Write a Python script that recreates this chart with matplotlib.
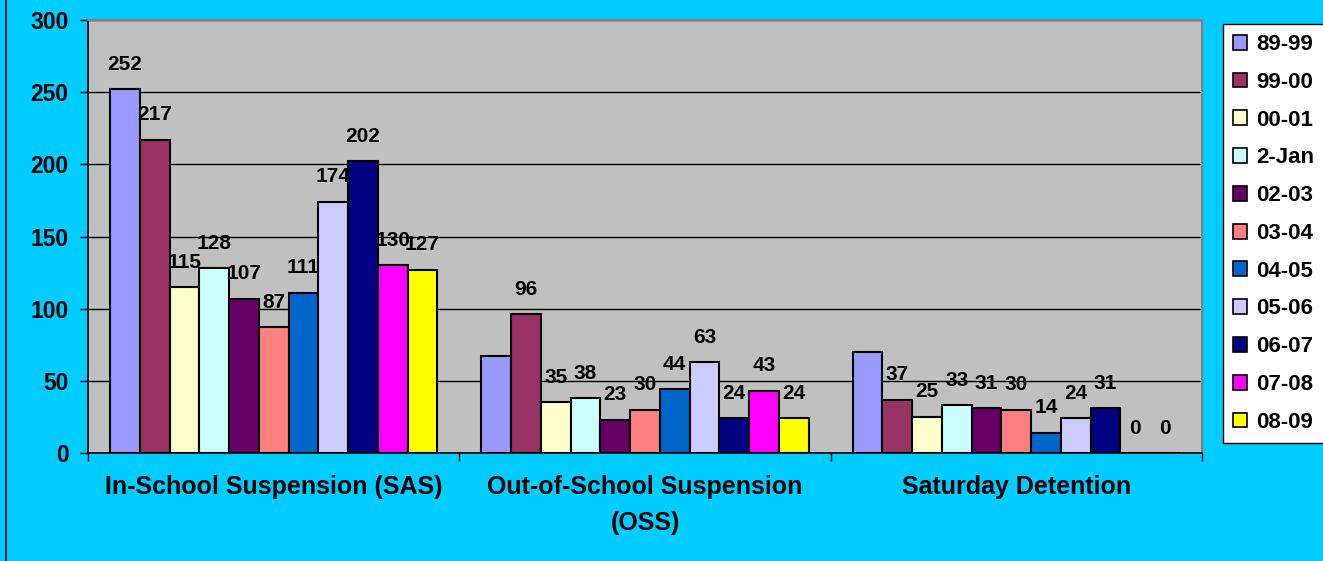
import matplotlib
matplotlib.use("Agg")
import matplotlib.pyplot as plt
import numpy as np
from matplotlib.patches import Rectangle
from matplotlib.lines import Line2D

plt.rcParams['font.family'] = ['Liberation Sans', 'DejaVu Sans']
plt.rcParams['font.weight'] = 'bold'

categories = ["In-School Suspension (SAS)", "Out-of-School Suspension\n(OSS)", "Saturday Detention"]
series_names = ["89-99", "99-00", "00-01", "2-Jan", "02-03", "03-04", "04-05", "05-06", "06-07", "07-08", "08-09"]
values = {
    "89-99": [252, 67, 70],
    "99-00": [217, 96, 37],
    "00-01": [115, 35, 25],
    "2-Jan": [128, 38, 33],
    "02-03": [107, 23, 31],
    "03-04": [87, 30, 30],
    "04-05": [111, 44, 14],
    "05-06": [174, 63, 24],
    "06-07": [202, 24, 31],
    "07-08": [130, 43, 0],
    "08-09": [127, 24, 0],
}
# labels shown in the reference (False = not shown)
shown = {
    "89-99": [True, False, False],
}
colors = ["#9999FF", "#993366", "#FFFFCC", "#CCFFFF", "#660066", "#FF8080",
          "#0066CC", "#CCCCFF", "#000080", "#FF00FF", "#FFFF00"]
yticks = [0, 50, 100, 150, 200, 250, 300]

W, H = 1323, 561
fig = plt.figure(figsize=(W / 100, H / 100), dpi=100)
fig.patch.set_facecolor("#00CCFF")
ax = fig.add_axes([88 / W, 1 - 453 / H, (1202 - 88) / W, (453 - 20) / H])
ax.set_facecolor("#C0C0C0")

n = len(series_names)
bw = 0.0801
x = np.arange(len(categories))
for i, name in enumerate(series_names):
    xs = x - n * bw / 2 + bw * (i + 0.5)
    vals = values[name]
    ax.bar(xs, vals, width=bw, color=colors[i], edgecolor="black", linewidth=1.5, zorder=3, label=name)
    flags = shown.get(name, [True] * len(vals))
    for xv, v, f in zip(xs, vals, flags):
        if f:
            ax.annotate(str(v), (xv, v), xytext=(0, 18), textcoords="offset points",
                        ha="center", va="center", fontsize=15, fontweight="bold", zorder=5)

ax.set_xlim(-0.5, len(categories) - 0.5)
ax.set_ylim(0, 300)
ax.set_yticks(yticks)
ax.set_yticklabels([str(t) for t in yticks], fontsize=16.5, fontweight="bold")
ax.tick_params(axis="y", length=6, width=1, direction="out", pad=8, colors="black")
ax.set_xticks(x)
ax.set_xticklabels(categories, fontsize=18, fontweight="bold", linespacing=1.6)
ax.tick_params(axis="x", length=0, pad=16)
ax.set_xticks(np.arange(-0.5, len(categories)), minor=True)
ax.tick_params(axis="x", which="minor", length=6, width=1, direction="out")
ax.yaxis.grid(True, color="black", linewidth=1)
ax.set_axisbelow(True)
for s in ["top", "right"]:
    ax.spines[s].set_color("#808080")
    ax.spines[s].set_linewidth(1.5)
for s in ["left", "bottom"]:
    ax.spines[s].set_color("black")
    ax.spines[s].set_linewidth(1.2)

handles = [Rectangle((0, 0), 1, 1, facecolor=c, edgecolor="black", linewidth=1.2) for c in colors]
leg = fig.legend(handles, series_names, loc="upper left",
                 bbox_to_anchor=(1223 / W, 1 - 24 / H), borderaxespad=0,
                 prop={"size": 16, "weight": "bold"}, frameon=True, fancybox=False,
                 edgecolor="black", facecolor="white", framealpha=1,
                 handlelength=0.65, handleheight=0.65, handletextpad=0.4,
                 labelspacing=0.755, borderpad=0.45)
leg.get_frame().set_linewidth(1)

fig.add_artist(Line2D([5.5 / W, 5.5 / W], [0, 1], color="black", linewidth=1.2, transform=fig.transFigure))

fig.savefig("out.png", dpi=100, facecolor=fig.get_facecolor())
